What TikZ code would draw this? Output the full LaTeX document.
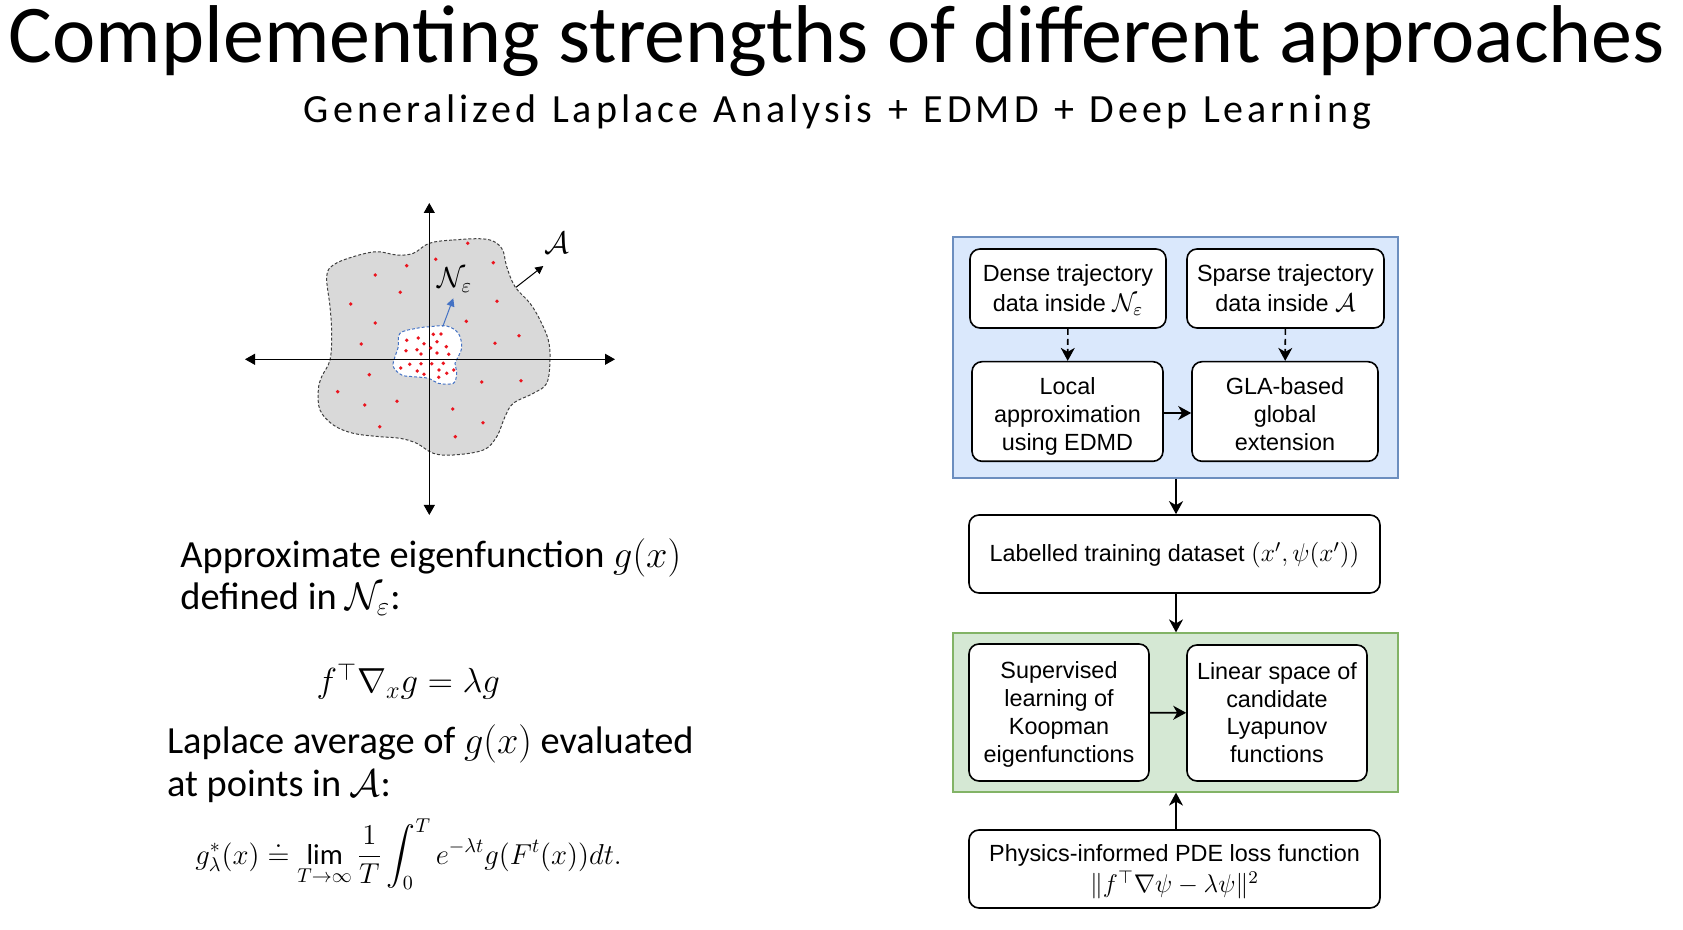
\RequirePackage{fix-cm}
\documentclass[tikz,border=0pt]{standalone}
\usepackage{amsmath,amssymb}
\usepackage{fontspec}
\setmainfont{Carlito}
\newfontfamily\boxfont{Liberation Sans}
\newfontfamily\subtitlefont[LetterSpace=10, WordSpace=1.2]{Carlito}
\usetikzlibrary{arrows.meta, positioning}
\definecolor{laplaceBlueFill}{HTML}{DAE8FC}
\definecolor{laplaceBlueLine}{HTML}{6C8EBF}
\definecolor{laplaceGreenFill}{HTML}{D5E8D4}
\definecolor{laplaceGreenLine}{HTML}{82B366}
\definecolor{laplaceRegion}{RGB}{217, 217, 217}
\definecolor{laplaceDot}{RGB}{235, 20, 30}
\definecolor{laplaceArrow}{RGB}{68, 114, 196}
% struts keep the lines of every box on the same grid
\newcommand{\topStrut}{\rule[-3.5pt]{0pt}{15pt}}
\newcommand{\lowStrut}{\rule[-3.5pt]{0pt}{18pt}}
\newcommand{\lastStrut}{\rule[-3.5pt]{0pt}{14pt}}
\newcommand{\boxMath}[1]{{\fontsize{12.8}{14}\selectfont$#1$}}
\tikzset{
  flowBox/.style={
    draw=black,
    line width=0.8pt,
    fill=white,
    rounded corners=5pt,
    align=center,
    inner sep=2pt,
    font=\boxfont\fontsize{11.7}{13.9}\selectfont
  },
  groupBlue/.style={
    draw=laplaceBlueLine,
    fill=laplaceBlueFill,
    line width=0.6pt
  },
  groupGreen/.style={
    draw=laplaceGreenLine,
    fill=laplaceGreenFill,
    line width=0.6pt
  },
  flowArrow/.style={
    -{Stealth[length=6.5pt, width=7pt, inset=2pt]},
    line width=0.8pt
  },
  axisArrow/.style={
    {Triangle[length=5pt, width=5.5pt]}-{Triangle[length=5pt, width=5.5pt]},
    line width=0.5pt
  },
  bodyText/.style={
    anchor=base west,
    inner sep=0pt,
    font=\fontsize{19.2}{23}\selectfont
  },
  mathText/.style={
    anchor=base west,
    inner sep=0pt,
    font=\fontsize{17.4}{20}\selectfont
  }
}

\begin{document}
\begin{tikzpicture}[x=0.5pt, y=-0.5pt]
  \useasboundingbox (0,0) rectangle (1683,930);

  % title
  \node[anchor=base, inner sep=0pt, font=\fontsize{41}{46}\selectfont] (title) at (837,62.3)
    {Complementing strengths of different approaches};
  \node[anchor=base, inner sep=0pt, font=\subtitlefont\fontsize{20}{24}\selectfont] (subtitle) at (837.5,122.7)
    {Generalized Laplace Analysis + EDMD + Deep Learning};

  % phase portrait sketch
  \draw[laplaceRegion, fill=laplaceRegion, draw=black!75, line width=0.5pt, dash pattern=on 1.5pt off 1pt]
    plot[smooth cycle, tension=0.6] coordinates {
      (429.3,243.3) (453.3,240) (486.7,239.3) (501.7,248.3) (506.7,266.7) (515,286.7)
      (530,303.3) (540,320) (548.3,340) (550,360) (546.7,383.3) (533.3,393.3)
      (513.3,403.3) (505,416.7) (496.7,436.7) (483.3,450) (453.3,455) (433.3,453.3)
      (416.7,443.3) (400,438.3) (380,436.7) (353.3,433.3) (333.3,425) (320,410)
      (318.3,390) (321.7,376.7) (330,360) (331.7,333.3) (330,306.7) (326.7,276.7)
      (333.3,265) (353.3,256.7) (376.7,251.7) (396.7,255) (413.3,253.3)};
  \draw[fill=white, draw=laplaceArrow, line width=0.5pt, dash pattern=on 1.5pt off 1pt]
    plot[smooth cycle, tension=0.6] coordinates {
      (400,333.3) (416.7,328.3) (430,326.7) (446.7,326) (458.3,333.3) (461.7,346.7)
      (458.3,356.7) (455,363.3) (456.7,371.7) (455,381.7) (450,384) (438.3,383.3)
      (428.3,378.3) (413.3,376.7) (401.7,375) (393.3,366.7) (395,356.7) (398.3,346.7)};

  \coordinate (axisW) at (245,359.3);
  \coordinate (axisE) at (615,359.3);
  \coordinate (axisN) at (429.3,203);
  \coordinate (axisS) at (429.3,515);
  \draw[axisArrow] (axisW) -- (axisE);
  \draw[axisArrow] (axisN) -- (axisS);

  \foreach \px/\py in {467.7/243.3, 435.7/259.3, 406.7/265.7, 493.3/262.7, 375.3/275,
      400.3/292.3, 497/301.3, 350.7/304, 375.3/323, 466.3/321.3, 519/335.7, 495/343.3,
      361.3/344, 369.3/374.7, 481.7/382, 521/380.7, 337.7/391.7, 364.7/405, 397/401.3,
      452.7/409, 483/422.7, 379.7/426.7, 455.3/436.7,
      406.7/340.3, 418.3/338, 433.3/334.3, 441/334, 424/343.7, 437/341.7, 446.3/346.7,
      406/350.7, 417/349.7, 430.7/348, 421/354, 437/353, 448.7/354.3, 400.7/368,
      409.7/364.3, 421/363.7, 431.7/363.7, 443.3/363.3, 417.3/371, 424/374.3, 439/370,
      446.7/373.3, 453.7/370, 438.7/377.3}
    \fill[laplaceDot] (\px,\py) circle[radius=0.95pt];

  \node[font=\fontsize{14.5}{16}\selectfont] (nEps) at (455,280) {$\mathcal{N}_\varepsilon$};
  \node[font=\fontsize{15.5}{17}\selectfont] (setA) at (557,243) {$\mathcal{A}$};
  \coordinate (nEpsFoot) at (442.7,326.7);
  \coordinate (nEpsTip) at (453.3,298.3);
  \coordinate (setAFoot) at (516,287.3);
  \coordinate (setATip) at (543.3,266);
  \draw[laplaceArrow, -{Triangle[length=4pt, width=4pt]}, line width=0.5pt] (nEpsFoot) -- (nEpsTip);
  \draw[-{Triangle[length=4pt, width=4pt]}, line width=0.5pt] (setAFoot) -- (setATip);

  % left column text
  \node[bodyText] (eigA) at (180,567.3) {Approximate eigenfunction $g(x)$};
  \node[bodyText] (eigB) at (180,610) {defined in $\mathcal{N}_\varepsilon$:};
  \node[mathText, anchor=base] (eigEq) at (408.3,693) {$f^\top \nabla_x g = \lambda g$};
  \node[bodyText] (lapA) at (166.7,753.3) {Laplace average of $g(x)$ evaluated};
  \node[bodyText] (lapB) at (166.7,796) {at points in $\mathcal{A}$:};
  \node[mathText, font=\fontsize{14.4}{16}\selectfont] (lapEq) at (195,864)
    {$\displaystyle g_\lambda^*(x) \doteq \lim_{T\to\infty} \frac{1}{T}\int_0^T e^{-\lambda t} g(F^t(x))dt.$};

  % flow chart
  \node[groupBlue, minimum width=222.5pt, minimum height=120.5pt] (gla) at (1175.5,357.5) {};
  \node[groupGreen, minimum width=222.5pt, minimum height=79.5pt] (learn) at (1175.5,712.5) {};

  \node[flowBox, minimum width=98pt, minimum height=39.5pt] (dense) at (1068,288.5)
    {\topStrut Dense trajectory\\data inside \boxMath{\mathcal{N}_\varepsilon}\lastStrut};
  \node[flowBox, minimum width=98.5pt, minimum height=39.5pt] (sparse) at (1285.5,288.5)
    {\topStrut Sparse trajectory\\data inside \boxMath{\mathcal{A}}\lastStrut};
  \node[flowBox, minimum width=95.5pt, minimum height=46.5pt] (local) at (1067.5,411.5)
    {\lowStrut Local\\approximation\\using EDMD\lastStrut};
  \node[flowBox, minimum width=93pt, minimum height=46.5pt] (global) at (1285,411.5)
    {\lowStrut GLA-based\\global\\extension\lastStrut};
  \node[flowBox, minimum width=205.5pt, minimum height=39pt] (dataset) at (1174.5,554)
    {\topStrut Labelled training dataset \boxMath{(x', \psi(x'))}\lastStrut};
  \node[flowBox, minimum width=90pt, minimum height=68.5pt] (superv) at (1059,712.5)
    {\topStrut Supervised\\learning of\\Koopman\\eigenfunctions\lastStrut};
  \node[flowBox, minimum width=90pt, minimum height=68pt] (lyap) at (1277,713)
    {\topStrut Linear space of\\candidate\\Lyapunov\\functions\lastStrut};
  \node[flowBox, minimum width=205.5pt, minimum height=39pt] (pde) at (1174.5,869)
    {\topStrut Physics-informed PDE loss function\\\boxMath{\|f^\top \nabla\psi - \lambda\psi\|^2}\lastStrut};

  \draw[flowArrow, dash pattern=on 3pt off 2pt] (dense) -- (local);
  \draw[flowArrow, dash pattern=on 3pt off 2pt] (sparse) -- (global);
  \draw[flowArrow] (local.east |- 0,413) -- (global.west |- 0,413);
  \draw[flowArrow, line width=1.4pt] (gla.south -| 1176,0) -- (dataset.north -| 1176,0);
  \draw[flowArrow] (dataset.south -| 1176,0) -- (learn.north -| 1176,0);
  \draw[flowArrow] (superv) -- (lyap);
  \draw[flowArrow] (pde.north -| 1176,0) -- (learn.south -| 1176,0);
\end{tikzpicture}
\end{document}
